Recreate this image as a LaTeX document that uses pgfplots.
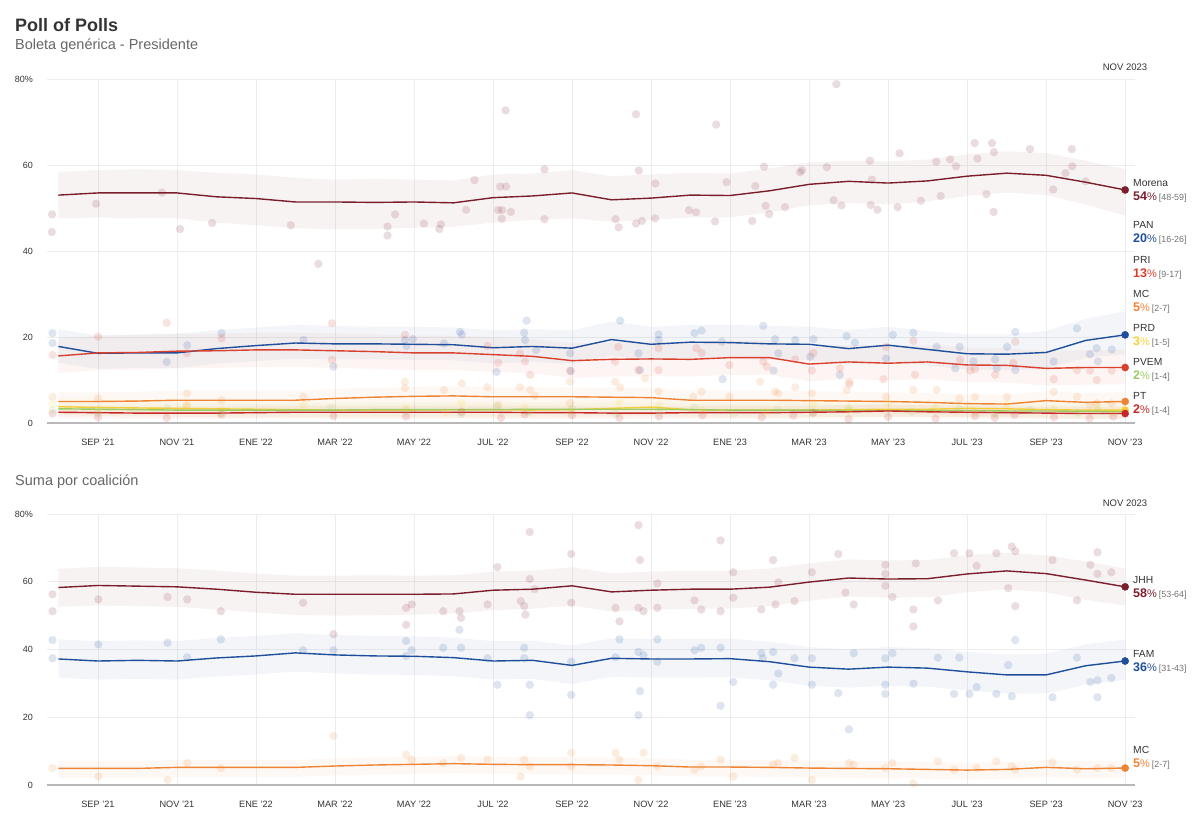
\documentclass[border=0pt]{standalone}
\usepackage{fontspec}
\setmainfont{Liberation Sans}
\usepackage{pgfplots}
\usepackage{pgfplotstable}
\pgfplotsset{compat=1.18}
\usepgfplotslibrary{fillbetween}

\definecolor{morena}{HTML}{7B1E2B}
\definecolor{pan}{HTML}{1F4E9A}
\definecolor{pri}{HTML}{D9412E}
\definecolor{mc}{HTML}{EE8433}
\definecolor{prd}{HTML}{F2CF3A}
\definecolor{pvem}{HTML}{9CCB66}
\definecolor{pt}{HTML}{C62828}
\definecolor{txt}{HTML}{333333}
\definecolor{sub}{HTML}{666666}

% ---------- top: trend lines with intervals (m = months since Jan 2021) ----------
\pgfplotstableread{
m v lo hi
7 53.0 47.6 58.4
8 53.5 47.8 58.8
9 53.5 47.6 59.0
10 53.5 47.6 58.8
11 52.6 46.6 58.2
12 52.2 46.0 57.8
13 51.4 45.3 57.0
14 51.4 45.0 56.6
15 51.3 45.1 56.8
16 51.4 45.4 56.6
17 51.2 45.6 56.4
18 52.4 46.6 57.8
19 52.8 47.2 58.0
20 53.5 47.6 58.8
21 51.9 46.8 57.4
22 52.3 47.2 57.8
23 53.0 47.8 58.2
24 52.9 47.8 58.0
25 54.0 49.0 59.2
26 55.5 50.6 60.6
27 56.2 51.2 61.0
28 55.8 50.8 60.8
29 56.3 51.5 61.3
30 57.4 52.8 62.5
31 58.1 53.6 63.2
32 57.6 53.0 62.8
33 56.0 50.8 61.0
34 54.2 48.2 59.0
}\tmor
\pgfplotstableread{
m v lo hi
7 17.8 14.0 21.8
8 16.2 12.6 20.4
9 16.3 12.8 20.6
10 16.3 12.8 20.8
11 17.3 13.8 21.6
12 18.0 14.4 22.2
13 18.6 15.0 22.8
14 18.4 14.8 22.6
15 18.4 14.8 22.4
16 18.3 14.7 22.4
17 18.2 14.6 22.2
18 17.5 13.9 21.6
19 17.8 14.2 21.8
20 17.4 13.8 21.6
21 19.4 15.6 23.6
22 18.3 14.6 22.4
23 18.8 15.1 22.8
24 18.7 15.0 22.8
25 18.4 14.7 22.6
26 18.3 14.6 22.4
27 17.3 13.6 21.6
28 18.1 14.4 22.4
29 17.1 13.4 21.4
30 16.1 12.4 20.6
31 16.0 12.3 20.6
32 16.4 12.6 21.4
33 19.2 15.2 24.2
34 20.5 16.0 26.0
}\tpan
\pgfplotstableread{
m v lo hi
7 15.6 11.6 19.6
8 16.3 12.3 20.3
9 16.4 12.4 20.4
10 16.7 12.7 20.7
11 16.8 12.8 20.8
12 17.0 13.0 21.0
13 17.0 13.0 21.0
14 16.8 12.8 20.8
15 16.6 12.6 20.6
16 16.3 12.3 20.3
17 16.3 12.3 20.3
18 15.9 11.9 19.9
19 15.5 11.5 19.5
20 14.5 10.5 18.5
21 14.8 10.8 18.8
22 14.9 10.9 18.9
23 14.8 10.8 18.8
24 15.2 11.2 19.2
25 15.2 11.2 19.2
26 13.7 9.7 17.7
27 14.2 10.2 18.2
28 13.9 9.9 17.9
29 14.2 10.2 18.2
30 13.5 9.5 17.5
31 13.4 9.4 17.4
32 12.7 8.7 16.7
33 12.9 8.9 16.9
34 12.9 9.0 17.0
}\tpri
\pgfplotstableread{
m v lo hi
7 5.0 2.2 7.2
8 5.0 2.2 7.2
9 5.1 2.3 7.3
10 5.3 2.5 7.5
11 5.3 2.5 7.5
12 5.3 2.5 7.5
13 5.3 2.5 7.5
14 5.7 2.9 7.9
15 6.0 3.2 8.2
16 6.2 3.4 8.4
17 6.3 3.5 8.5
18 6.1 3.3 8.3
19 6.1 3.3 8.3
20 6.1 3.3 8.3
21 6.0 3.2 8.2
22 5.9 3.1 8.1
23 5.3 2.5 7.5
24 5.3 2.5 7.5
25 5.3 2.5 7.5
26 5.2 2.4 7.4
27 5.1 2.3 7.3
28 5.0 2.2 7.2
29 4.8 2.0 7.0
30 4.5 1.7 6.7
31 4.4 1.6 6.6
32 5.2 2.4 7.4
33 4.8 2.0 7.0
34 5.0 2.2 7.2
}\tmc
\pgfplotstableread{
m v lo hi
7 3.8 1.8 5.8
8 3.6 1.6 5.6
9 3.5 1.5 5.5
10 3.4 1.4 5.4
11 3.3 1.3 5.3
12 3.2 1.2 5.2
13 3.1 1.1 5.1
14 3.0 1.0 5.0
15 3.0 1.0 5.0
16 3.0 1.0 5.0
17 3.1 1.1 5.1
18 3.1 1.1 5.1
19 3.0 1.0 5.0
20 3.1 1.1 5.1
21 3.4 1.4 5.4
22 3.7 1.7 5.7
23 3.1 1.1 5.1
24 3.0 1.0 5.0
25 3.0 1.0 5.0
26 3.0 1.0 5.0
27 3.1 1.1 5.1
28 3.2 1.2 5.2
29 3.2 1.2 5.2
30 3.4 1.4 5.4
31 3.3 1.3 5.3
32 3.1 1.1 5.1
33 3.0 1.0 5.0
34 3.0 1.0 5.0
}\tprd
\pgfplotstableread{
m v lo hi
7 3.3 1.8 4.8
8 3.2 1.7 4.7
9 3.1 1.6 4.6
10 3.0 1.5 4.5
11 3.0 1.5 4.5
12 3.0 1.5 4.5
13 3.0 1.5 4.5
14 3.0 1.5 4.5
15 3.1 1.6 4.6
16 3.1 1.6 4.6
17 3.1 1.6 4.6
18 3.1 1.6 4.6
19 3.2 1.7 4.7
20 3.2 1.7 4.7
21 3.2 1.7 4.7
22 3.2 1.7 4.7
23 3.1 1.6 4.6
24 3.0 1.5 4.5
25 3.0 1.5 4.5
26 3.0 1.5 4.5
27 2.9 1.4 4.4
28 2.9 1.4 4.4
29 2.9 1.4 4.4
30 2.9 1.4 4.4
31 2.8 1.3 4.3
32 2.8 1.3 4.3
33 2.7 1.2 4.2
34 2.6 1.1 4.1
}\tpvem
\pgfplotstableread{
m v lo hi
7 2.5 1.2 4.0
8 2.4 1.1 3.9
9 2.3 1.0 3.8
10 2.3 1.0 3.8
11 2.3 1.0 3.8
12 2.4 1.1 3.9
13 2.5 1.2 4.0
14 2.5 1.2 4.0
15 2.5 1.2 4.0
16 2.5 1.2 4.0
17 2.5 1.2 4.0
18 2.5 1.2 4.0
19 2.4 1.1 3.9
20 2.4 1.1 3.9
21 2.3 1.0 3.8
22 2.3 1.0 3.8
23 2.4 1.1 3.9
24 2.4 1.1 3.9
25 2.4 1.1 3.9
26 2.5 1.2 4.0
27 2.6 1.3 4.1
28 2.8 1.5 4.3
29 2.6 1.3 4.1
30 2.5 1.2 4.0
31 2.4 1.1 3.9
32 2.3 1.0 3.8
33 2.2 0.9 3.7
34 2.2 0.9 3.7
}\tpt

% ---------- top: individual polls ----------
\pgfplotstableread{
m v
6.84 48.5
6.83 44.4
7.95 51.0
9.62 53.6
10.08 45.1
10.89 46.5
12.88 46.0
13.58 37.0
15.33 45.7
15.33 43.6
15.52 48.5
16.25 46.4
16.64 45.1
16.68 46.2
17.32 49.6
17.53 56.5
18.18 55.0
18.33 55.0
18.13 49.5
18.23 49.5
18.22 47.5
18.45 49.1
18.32 72.7
19.30 59.0
19.30 47.4
21.10 47.4
21.18 45.5
21.62 71.8
21.69 58.7
21.62 46.4
21.77 47.0
22.11 55.7
22.10 47.6
22.96 49.5
23.14 49.0
23.65 69.4
23.91 56.0
23.62 46.9
24.56 47.0
24.64 55.1
24.86 59.6
24.90 50.5
24.99 48.6
25.39 50.2
25.77 58.3
25.82 58.8
26.45 59.5
26.62 51.8
26.82 50.6
26.69 78.8
27.54 61.0
27.59 56.6
27.56 50.7
27.73 49.6
28.24 50.2
28.29 62.7
28.83 51.7
29.22 60.8
29.33 52.8
29.57 61.3
29.72 59.7
30.19 65.1
30.26 61.5
30.49 53.2
30.63 65.1
30.68 63.0
30.67 49.1
31.59 63.7
32.18 54.3
32.49 58.1
32.66 59.7
32.65 63.7
33.00 56.2
}\pmor
\pgfplotstableread{
m v
6.85 20.9
6.85 18.6
9.74 14.2
10.26 18.1
11.13 20.9
13.20 19.3
13.96 13.1
15.77 19.3
15.97 19.5
15.81 17.9
16.76 18.5
17.16 21.2
17.21 20.6
18.09 11.9
18.85 23.8
18.79 21.0
18.81 19.3
19.09 17.0
19.97 12.1
19.95 16.2
21.22 23.8
21.68 16.2
21.72 12.3
22.19 20.6
22.19 19.3
23.10 20.9
23.28 21.5
23.79 18.9
23.81 10.2
24.84 22.6
25.14 19.5
25.22 16.2
25.10 12.2
25.65 19.3
26.11 19.5
26.03 15.4
26.95 20.2
27.16 18.7
26.78 11.2
28.12 20.5
27.95 15.0
28.64 21.0
29.23 17.7
29.81 17.7
29.70 12.7
30.16 14.3
30.71 14.8
30.75 12.7
31.01 17.7
31.22 21.2
31.22 12.3
32.19 14.3
32.78 22.0
33.11 16.0
33.28 17.4
33.31 14.3
33.66 17.1
}\ppan
\pgfplotstableread{
m v
9.74 23.3
8.00 20.1
6.85 15.8
10.25 16.2
11.13 19.7
13.92 23.2
13.92 14.7
15.77 20.5
18.13 14.0
17.86 17.9
18.68 16.2
18.81 14.3
18.94 11.2
19.95 12.1
21.17 17.7
21.09 14.3
21.68 12.3
22.19 17.4
22.19 12.3
23.15 17.4
23.28 16.3
23.98 13.5
24.84 14.3
24.93 13.1
26.11 16.3
25.65 14.8
26.07 12.2
26.78 12.7
27.02 9.1
27.95 17.7
27.88 10.2
28.64 19.1
28.68 11.2
29.82 14.7
30.08 12.2
30.20 12.5
30.71 11.2
31.22 18.9
31.17 14.0
32.19 10.2
32.78 12.3
33.11 12.2
33.28 10.0
33.66 12.2
}\ppri
\pgfplotstableread{
m v
6.85 6.1
8.00 5.7
10.25 6.9
10.25 4.2
11.13 5.3
13.20 6.1
15.77 9.6
15.77 8.1
16.76 7.7
17.21 9.2
17.86 8.3
18.13 4.2
18.68 8.3
18.94 7.7
19.06 6.3
19.95 9.6
19.95 4.6
21.09 9.6
21.22 8.3
21.85 10.4
22.19 7.3
23.07 6.1
23.28 7.3
23.98 6.1
24.76 9.6
25.14 7.3
25.22 6.9
25.65 8.3
26.07 6.9
26.95 7.7
27.02 9.6
27.95 6.1
28.64 7.7
29.23 7.7
29.81 5.7
30.20 6.1
31.01 6.1
32.19 7.3
32.78 6.1
33.11 4.2
33.28 4.6
33.66 4.6
}\pmc
\pgfplotstableread{
m v
6.85 4.4
8.00 3.2
10.25 3.9
11.13 3.0
13.20 4.2
15.80 3.4
16.80 2.6
17.20 4.6
18.80 3.6
19.95 2.8
21.20 4.8
22.20 4.1
23.30 3.0
24.90 2.5
26.10 4.2
27.00 3.0
28.00 4.6
29.20 3.5
30.20 2.8
31.00 4.3
32.20 3.2
33.30 3.7
33.70 2.6
}\pprd
\pgfplotstableread{
m v
6.85 3.0
8.00 2.4
9.75 3.4
11.10 2.2
13.90 3.6
15.80 2.8
17.20 2.0
18.10 3.8
18.90 2.4
20.00 3.3
21.10 2.1
22.20 3.0
23.10 3.6
24.10 2.2
25.20 3.1
26.10 2.3
27.00 3.5
28.60 2.6
29.80 3.2
30.70 2.1
31.60 3.0
32.80 2.4
33.30 2.9
}\ppvem
\pgfplotstableread{
m v
6.85 2.2
8.00 1.3
9.74 1.2
11.13 2.0
13.96 1.6
15.80 1.5
17.20 2.6
18.20 1.2
18.80 2.0
20.00 1.8
21.20 1.2
22.20 1.5
23.30 1.8
24.80 1.3
25.60 1.7
26.10 2.4
27.00 0.9
28.00 1.4
29.20 1.0
30.20 1.6
30.70 1.2
31.20 1.9
32.20 1.3
33.10 1.1
33.70 1.5
}\ppt

% ---------- bottom: coalitions ----------
\pgfplotstableread{
m v lo hi
7 58.3 52.6 63.8
8 58.9 53.0 64.4
9 58.7 52.8 64.2
10 58.5 52.6 64.0
11 57.8 51.8 63.3
12 56.9 50.9 62.4
13 56.3 50.2 61.8
14 56.3 50.0 61.8
15 56.3 50.1 61.9
16 56.3 50.3 61.8
17 56.4 50.6 61.9
18 57.5 51.6 63.0
19 57.8 52.0 63.3
20 58.8 53.0 64.3
21 57.0 51.2 62.5
22 57.5 51.8 63.0
23 57.8 52.0 63.3
24 57.8 52.1 63.3
25 58.4 52.8 63.9
26 59.9 54.4 65.4
27 61.1 55.6 66.6
28 60.8 55.3 66.3
29 60.9 55.4 66.4
30 62.3 56.9 67.8
31 63.2 57.8 68.6
32 62.4 56.9 67.8
33 60.5 54.6 66.0
34 58.5 53.0 64.0
}\tjhh
\pgfplotstableread{
m v lo hi
7 37.2 31.7 43.0
8 36.6 31.1 42.5
9 36.8 31.3 42.7
10 36.6 31.1 42.5
11 37.5 32.0 43.4
12 38.1 32.6 44.0
13 39.0 33.5 44.8
14 38.4 32.9 44.3
15 38.1 32.6 44.0
16 38.0 32.5 43.9
17 37.6 32.1 43.5
18 36.6 31.1 42.5
19 36.8 31.3 42.6
20 35.3 29.8 41.2
21 37.4 31.9 43.3
22 37.2 31.7 43.1
23 37.2 31.7 43.1
24 37.3 31.8 43.2
25 36.4 30.9 42.3
26 34.8 29.3 40.7
27 34.2 28.7 40.1
28 34.8 29.3 40.7
29 34.5 29.0 40.4
30 33.4 27.9 39.3
31 32.5 27.0 38.5
32 32.5 27.0 38.8
33 35.2 29.6 41.5
34 36.6 31.0 43.0
}\tfam
\pgfplotstableread{
m v lo hi
7 4.9 2.1 7.1
8 4.9 2.1 7.1
9 4.9 2.1 7.1
10 5.2 2.4 7.4
11 5.2 2.4 7.4
12 5.2 2.4 7.4
13 5.2 2.4 7.4
14 5.6 2.8 7.8
15 5.9 3.1 8.1
16 6.1 3.3 8.3
17 6.3 3.5 8.5
18 6.1 3.3 8.3
19 6.0 3.2 8.2
20 6.0 3.2 8.2
21 5.9 3.1 8.1
22 5.7 2.9 7.9
23 5.3 2.5 7.5
24 5.3 2.5 7.5
25 5.2 2.4 7.4
26 5.0 2.2 7.2
27 4.9 2.1 7.1
28 4.8 2.0 7.0
29 4.6 1.8 6.8
30 4.4 1.6 6.6
31 4.6 1.8 6.8
32 5.2 2.4 7.4
33 4.8 2.0 7.0
34 5.0 2.2 7.2
}\tmcb
\pgfplotstableread{
m v
6.85 56.3
6.85 51.3
8.01 54.8
9.76 55.5
10.26 54.8
11.11 51.3
13.19 53.8
13.96 44.5
15.80 52.3
15.80 47.3
15.94 53.3
16.74 51.3
17.19 49.3
17.15 51.3
18.11 64.3
17.86 53.3
18.70 54.3
18.79 52.8
18.82 50.3
18.93 60.8
18.93 74.7
19.05 57.8
19.98 68.2
19.98 53.8
21.10 52.3
21.20 48.3
21.68 76.7
21.72 66.4
21.68 52.3
21.81 51.3
22.16 59.5
22.16 52.3
23.10 54.5
23.27 51.8
23.76 72.2
23.76 51.3
24.08 62.8
24.08 55.3
24.79 51.8
25.09 66.4
25.15 53.3
25.22 59.8
25.63 54.3
26.07 62.8
26.74 68.2
26.92 56.8
27.13 53.3
27.93 65.0
27.93 62.3
28.11 55.5
27.93 58.8
28.64 51.8
28.64 46.8
28.70 65.4
29.26 54.5
29.67 68.4
30.06 68.4
30.24 64.7
30.74 68.4
31.13 70.4
31.22 69.0
31.04 58.1
31.22 52.8
32.16 66.4
32.78 54.5
33.12 65.0
33.30 68.7
33.30 62.3
33.65 62.8
}\pjhh
\pgfplotstableread{
m v
6.85 42.8
6.85 37.4
8.01 41.5
9.76 42.0
10.26 37.7
11.11 43.0
13.19 39.8
13.96 39.8
15.80 42.5
15.94 39.8
15.80 38.1
16.74 40.5
17.19 40.5
17.15 45.8
17.86 37.4
18.11 29.6
18.79 40.5
18.79 37.4
18.93 29.6
18.93 20.6
19.98 36.4
19.98 26.6
21.20 43.0
21.10 37.7
21.68 39.3
21.81 38.3
21.72 27.7
21.68 20.6
22.16 43.0
22.16 36.4
23.10 39.8
23.27 40.5
23.76 40.5
23.76 23.4
24.08 30.4
24.79 38.9
24.83 37.4
25.09 39.3
25.22 32.9
25.09 29.6
25.63 37.4
26.07 29.6
26.07 37.4
26.74 27.1
27.01 16.4
27.13 38.9
27.93 37.4
27.93 29.6
27.93 26.9
28.11 38.9
28.64 29.9
29.26 37.6
29.80 37.6
29.67 26.9
30.06 26.9
30.24 28.9
30.74 26.9
31.13 26.2
31.22 42.8
31.04 35.4
32.16 25.9
32.78 37.6
33.12 30.4
33.30 30.9
33.30 25.9
33.65 31.6
}\pfam
\pgfplotstableread{
m v
6.85 5.0
8.01 2.5
9.76 1.5
10.26 6.5
11.11 5.0
13.96 14.5
15.80 9.0
15.94 7.5
16.74 6.5
17.19 8.0
17.86 7.5
18.79 7.5
18.93 5.5
18.70 2.5
19.98 9.5
19.98 5.5
21.10 9.5
21.20 7.5
21.68 1.5
21.81 9.5
22.16 5.5
23.10 4.5
23.27 5.5
23.76 7.5
24.08 2.5
25.09 6.0
25.22 6.5
25.63 8.0
26.07 1.5
27.01 6.5
27.13 6.0
27.93 5.0
28.11 6.5
28.64 0.5
29.26 7.0
29.67 4.5
30.24 5.0
30.74 7.0
31.13 5.5
31.22 4.5
32.16 6.7
32.78 4.5
33.30 5.0
33.65 5.0
}\pmcb

\pgfplotsset{
  pollaxis/.style={
    scale only axis, width=1088pt,
    xmin=6.71, xmax=34.25, ymin=0, ymax=80,
    axis lines*=left, axis line style={-},
    y axis line style={draw=none},
    x axis line style={draw=black!28, line width=1.5pt},
    xtick={8,10,...,34},
    xticklabels={SEP '21,NOV '21,ENE '22,MAR '22,MAY '22,JUL '22,SEP '22,NOV '22,ENE '23,MAR '23,MAY '23,JUL '23,SEP '23,NOV '23},
    ytick={0,20,40,60,80}, yticklabels={0,20,40,60,80\%},
    major tick length=0pt,
    grid=major, major grid style={draw=black!7, line width=0.8pt},
    xticklabel style={font=\fontsize{9.2}{10}\selectfont, text=txt, anchor=base, inner sep=0pt, yshift=-23pt},
    yticklabel style={font=\fontsize{9}{10}\selectfont, text=txt, anchor=east, inner sep=0pt, xshift=-14pt},
  },
  dots/.style={only marks, mark=*, mark size=4.2pt, color=#1, mark options={fill=#1, draw=#1, fill opacity=0.15, draw opacity=0}},
  trend/.style={no marks, draw=#1, line width=1.4pt},
  band/.style={draw=none, fill=#1, fill opacity=0.055},
  enddot/.style={only marks, mark=*, mark size=3.6pt, color=#1, mark options={draw=#1, fill=#1}},
}

\newcommand\lab[3]{{\color{#1}\fontsize{12.5}{14}\selectfont\bfseries #2}{\color{#1}\fontsize{11}{13}\selectfont\%}\hspace{2pt}{\color{black!55}\fontsize{8.9}{10}\selectfont[#3]}}

\begin{document}
\begin{tikzpicture}
\path (0,0) rectangle (1200pt,824pt);

% ================= TOP =================
\begin{axis}[pollaxis, at={(47pt,401pt)}, anchor=south west, height=344pt]
  \addplot[draw=none, name path=morhi, forget plot] table[x=m,y=hi]{\tmor};
  \addplot[draw=none, name path=morlo, forget plot] table[x=m,y=lo]{\tmor};
  \addplot[band=morena, forget plot] fill between[of=morhi and morlo];
  \addplot[draw=none, name path=panhi, forget plot] table[x=m,y=hi]{\tpan};
  \addplot[draw=none, name path=panlo, forget plot] table[x=m,y=lo]{\tpan};
  \addplot[band=pan, forget plot] fill between[of=panhi and panlo];
  \addplot[draw=none, name path=prihi, forget plot] table[x=m,y=hi]{\tpri};
  \addplot[draw=none, name path=prilo, forget plot] table[x=m,y=lo]{\tpri};
  \addplot[band=pri, forget plot] fill between[of=prihi and prilo];
  \addplot[draw=none, name path=mchi, forget plot] table[x=m,y=hi]{\tmc};
  \addplot[draw=none, name path=mclo, forget plot] table[x=m,y=lo]{\tmc};
  \addplot[band=mc, forget plot] fill between[of=mchi and mclo];
  \addplot[draw=none, name path=prdhi, forget plot] table[x=m,y=hi]{\tprd};
  \addplot[draw=none, name path=prdlo, forget plot] table[x=m,y=lo]{\tprd};
  \addplot[band=prd, forget plot] fill between[of=prdhi and prdlo];
  \addplot[draw=none, name path=pvemhi, forget plot] table[x=m,y=hi]{\tpvem};
  \addplot[draw=none, name path=pvemlo, forget plot] table[x=m,y=lo]{\tpvem};
  \addplot[band=pvem, forget plot] fill between[of=pvemhi and pvemlo];
  \addplot[draw=none, name path=pthi, forget plot] table[x=m,y=hi]{\tpt};
  \addplot[draw=none, name path=ptlo, forget plot] table[x=m,y=lo]{\tpt};
  \addplot[band=pt, forget plot] fill between[of=pthi and ptlo];
  \addplot[dots=morena] table[x=m,y=v]{\pmor};
  \addplot[dots=pan] table[x=m,y=v]{\ppan};
  \addplot[dots=pri] table[x=m,y=v]{\ppri};
  \addplot[dots=mc] table[x=m,y=v]{\pmc};
  \addplot[dots=prd] table[x=m,y=v]{\pprd};
  \addplot[dots=pvem] table[x=m,y=v]{\ppvem};
  \addplot[dots=pt] table[x=m,y=v]{\ppt};
  \addplot[trend=morena] table[x=m,y=v]{\tmor};
  \addplot[trend=pan] table[x=m,y=v]{\tpan};
  \addplot[trend=pri] table[x=m,y=v]{\tpri};
  \addplot[trend=mc] table[x=m,y=v]{\tmc};
  \addplot[trend=prd] table[x=m,y=v]{\tprd};
  \addplot[trend=pvem] table[x=m,y=v]{\tpvem};
  \addplot[trend=pt] table[x=m,y=v]{\tpt};
  \addplot[enddot=morena] coordinates {(34,54.2)};
  \addplot[enddot=pan] coordinates {(34,20.5)};
  \addplot[enddot=pri] coordinates {(34,12.9)};
  \addplot[enddot=mc] coordinates {(34,5.0)};
  \addplot[enddot=prd] coordinates {(34,3.0)};
  \addplot[enddot=pt] coordinates {(34,2.2)};
\end{axis}

% ================= BOTTOM =================
\begin{axis}[pollaxis, at={(47pt,39pt)}, anchor=south west, height=271pt]
  \addplot[draw=none, name path=jhhhi, forget plot] table[x=m,y=hi]{\tjhh};
  \addplot[draw=none, name path=jhhlo, forget plot] table[x=m,y=lo]{\tjhh};
  \addplot[band=morena, forget plot] fill between[of=jhhhi and jhhlo];
  \addplot[draw=none, name path=famhi, forget plot] table[x=m,y=hi]{\tfam};
  \addplot[draw=none, name path=famlo, forget plot] table[x=m,y=lo]{\tfam};
  \addplot[band=pan, forget plot] fill between[of=famhi and famlo];
  \addplot[draw=none, name path=mcbhi, forget plot] table[x=m,y=hi]{\tmcb};
  \addplot[draw=none, name path=mcblo, forget plot] table[x=m,y=lo]{\tmcb};
  \addplot[band=mc, forget plot] fill between[of=mcbhi and mcblo];
  \addplot[dots=morena] table[x=m,y=v]{\pjhh};
  \addplot[dots=pan] table[x=m,y=v]{\pfam};
  \addplot[dots=mc] table[x=m,y=v]{\pmcb};
  \addplot[trend=morena] table[x=m,y=v]{\tjhh};
  \addplot[trend=pan] table[x=m,y=v]{\tfam};
  \addplot[trend=mc] table[x=m,y=v]{\tmcb};
  \addplot[enddot=morena] coordinates {(34,58.5)};
  \addplot[enddot=pan] coordinates {(34,36.6)};
  \addplot[enddot=mc] coordinates {(34,5.0)};
\end{axis}

% ================= TEXT =================
\node[anchor=base west, inner sep=0pt, font=\fontsize{18}{20}\selectfont\bfseries, text=txt] at (15pt,792.3pt) {Poll of Polls};
\node[anchor=base west, inner sep=0pt, font=\fontsize{14.5}{16}\selectfont, text=sub] at (15pt,774.5pt) {Boleta genérica - Presidente};
\node[anchor=base west, inner sep=0pt, font=\fontsize{14.5}{16}\selectfont, text=sub] at (15pt,338.3pt) {Suma por coalición};
\node[anchor=base, inner sep=0pt, font=\fontsize{9.5}{11}\selectfont, text=txt] at (1125pt,753pt) {NOV 2023};
\node[anchor=base, inner sep=0pt, font=\fontsize{9.5}{11}\selectfont, text=txt] at (1125pt,317.3pt) {NOV 2023};

\tikzset{nm/.style={anchor=base west, inner sep=0pt, font=\fontsize{10.3}{12}\selectfont, text=txt}, vl/.style={anchor=base west, inner sep=0pt}}
\node[nm] at (1133pt,637.3pt) {Morena};
\node[vl] at (1133pt,623.3pt) {\lab{morena}{54}{48-59}};
\node[nm] at (1133pt,595.7pt) {PAN};
\node[vl] at (1133pt,581.7pt) {\lab{pan}{20}{16-26}};
\node[nm] at (1133pt,560.7pt) {PRI};
\node[vl] at (1133pt,546.7pt) {\lab{pri}{13}{9-17}};
\node[nm] at (1133pt,526.3pt) {MC};
\node[vl] at (1133pt,512.3pt) {\lab{mc}{5}{2-7}};
\node[nm] at (1133pt,492.3pt) {PRD};
\node[vl] at (1133pt,478.3pt) {\lab{prd}{3}{1-5}};
\node[nm] at (1133pt,458pt) {PVEM};
\node[vl] at (1133pt,444pt) {\lab{pvem}{2}{1-4}};
\node[nm] at (1133pt,424pt) {PT};
\node[vl] at (1133pt,410pt) {\lab{pt}{2}{1-4}};

\node[nm] at (1133pt,240.7pt) {JHH};
\node[vl] at (1133pt,226.7pt) {\lab{morena}{58}{53-64}};
\node[nm] at (1133pt,166.7pt) {FAM};
\node[vl] at (1133pt,152.3pt) {\lab{pan}{36}{31-43}};
\node[nm] at (1133pt,70.7pt) {MC};
\node[vl] at (1133pt,56.7pt) {\lab{mc}{5}{2-7}};
\end{tikzpicture}
\end{document}
